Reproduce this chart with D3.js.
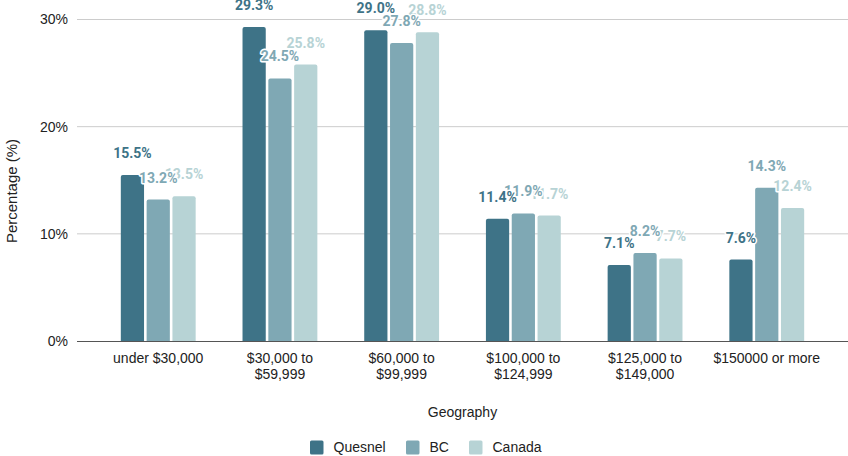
<!DOCTYPE html>
<html>
<head>
<meta charset="utf-8">
<script src="https://cdn.jsdelivr.net/npm/d3@7"></script>
<style>
  html, body { margin: 0; padding: 0; background: #fff; }
  svg { display: block; }
</style>
</head>
<body>
<svg id="chart" width="848" height="456"></svg>
<script>
// Household income distribution by geography
const categories = [
  ["under $30,000"],
  ["$30,000 to", "$59,999"],
  ["$60,000 to", "$99,999"],
  ["$100,000 to", "$124,999"],
  ["$125,000 to", "$149,000"],
  ["$150000 or more"]
];
const seriesNames = ["Quesnel", "BC", "Canada"];
const quesnel = [15.5, 29.3, 29.0, 11.4, 7.1, 7.6];
const bc      = [13.2, 24.5, 27.8, 11.9, 8.2, 14.3];
const canada  = [13.5, 25.8, 28.8, 11.7, 7.7, 12.4];
const yTicks  = [0, 10, 20, 30];
const colors  = ["#3e7387", "#7fa8b4", "#b7d3d5"];

const seriesValues = [quesnel, bc, canada];
const catKeys = categories.map(c => c.join(" "));

const svg = d3.select("#chart");
const plot = { left: 77, right: 848, top: 19.5, bottom: 341 };

const x = d3.scaleBand()
  .domain(catKeys)
  .range([plot.left, plot.right])
  .paddingInner(0.385)
  .paddingOuter(0.36);

const xs = d3.scaleBand()
  .domain(seriesNames)
  .range([0, x.bandwidth()])
  .paddingInner(0.1);

const y = d3.scaleLinear().domain([0, 30]).range([plot.bottom, plot.top]);

const tickFont = "'Liberation Sans', Arial, sans-serif";
const labelFont = "Roboto, 'Noto Sans', sans-serif";
const textColor = "#222";

// gridlines
svg.append("g")
  .selectAll("line")
  .data(yTicks.filter(t => t !== 0))
  .join("line")
  .attr("x1", plot.left).attr("x2", plot.right)
  .attr("y1", d => y(d)).attr("y2", d => y(d))
  .attr("stroke", "#cccccc").attr("stroke-width", 1);

// y axis tick labels
const yAxis = d3.axisLeft(y).tickValues(yTicks).tickFormat(d => d + "%").tickSize(0).tickPadding(9);
const gy = svg.append("g").attr("transform", `translate(${plot.left},0)`).call(yAxis);
gy.select(".domain").remove();
gy.selectAll("text")
  .attr("font-family", tickFont).attr("font-size", 14).attr("fill", textColor);

// bars
const rows = catKeys.map((k, i) => seriesNames.map((s, j) => ({ cat: k, series: s, j, value: seriesValues[j][i] })));

function barPath(x0, w, yTop, yBot, r) {
  r = Math.min(r, w / 2, yBot - yTop);
  return `M${x0},${yBot}V${yTop + r}Q${x0},${yTop} ${x0 + r},${yTop}H${x0 + w - r}Q${x0 + w},${yTop} ${x0 + w},${yTop + r}V${yBot}Z`;
}

const groups = svg.append("g").selectAll("g")
  .data(rows)
  .join("g")
  .attr("transform", (d, i) => `translate(${x(catKeys[i])},0)`);

groups.selectAll("path")
  .data(d => d)
  .join("path")
  .attr("d", d => barPath(xs(d.series), xs.bandwidth(), y(d.value), y(0), 2))
  .attr("fill", d => colors[d.j]);

// baseline
const xAxis = d3.axisBottom(x).tickSize(0).tickFormat("");
const gx = svg.append("g").attr("transform", `translate(0,${plot.bottom})`).call(xAxis);
gx.select(".domain").attr("stroke", "#555").attr("stroke-width", 1.2).attr("d", `M${plot.left},0.5H${plot.right}`);

// category labels (wrapped over two lines)
svg.append("g").selectAll("text")
  .data(categories)
  .join("text")
  .attr("x", (d, i) => x(catKeys[i]) + x.bandwidth() / 2)
  .attr("y", 363)
  .attr("text-anchor", "middle")
  .attr("font-family", tickFont).attr("font-size", 14).attr("fill", textColor)
  .selectAll("tspan")
  .data(d => d)
  .join("tspan")
  .attr("x", function () { return d3.select(this.parentNode).attr("x"); })
  .attr("dy", (d, i) => i === 0 ? 0 : 16)
  .text(d => d);

// value labels: later series first so earlier series sit on top
const labelData = [];
[2, 1, 0].forEach(j => {
  catKeys.forEach((k, i) => labelData.push({ cat: k, j, series: seriesNames[j], value: seriesValues[j][i] }));
});
svg.append("g").selectAll("text")
  .data(labelData)
  .join("text")
  .attr("x", d => x(d.cat) + xs(d.series) + xs.bandwidth() / 2)
  .attr("y", d => y(d.value) - 17)
  .attr("text-anchor", "middle")
  .attr("font-family", labelFont).attr("font-size", 14).attr("font-weight", 700)
  .attr("fill", d => colors[d.j])
  .attr("stroke", "#fff").attr("stroke-width", 3).attr("stroke-linejoin", "round")
  .attr("paint-order", "stroke")
  .text(d => d.value.toFixed(1) + "%");

// axis titles
svg.append("text")
  .attr("x", 462.5).attr("y", 417)
  .attr("text-anchor", "middle")
  .attr("font-family", tickFont).attr("font-size", 14).attr("fill", textColor)
  .text("Geography");

svg.append("text")
  .attr("transform", "translate(17,191) rotate(-90)")
  .attr("text-anchor", "middle")
  .attr("font-family", tickFont).attr("font-size", 15).attr("fill", textColor)
  .text("Percentage (%)");

// legend
const legendX = [310, 406, 469];
const legend = svg.append("g").selectAll("g")
  .data(seriesNames)
  .join("g")
  .attr("transform", (d, i) => `translate(${legendX[i]},440.5)`);
legend.append("rect")
  .attr("width", 13.5).attr("height", 14).attr("rx", 1.5)
  .attr("fill", (d, i) => colors[i]);
legend.append("text")
  .attr("x", 23.5).attr("y", 11.5)
  .attr("font-family", tickFont).attr("font-size", 14).attr("fill", textColor)
  .text(d => d);
</script>
</body>
</html>
